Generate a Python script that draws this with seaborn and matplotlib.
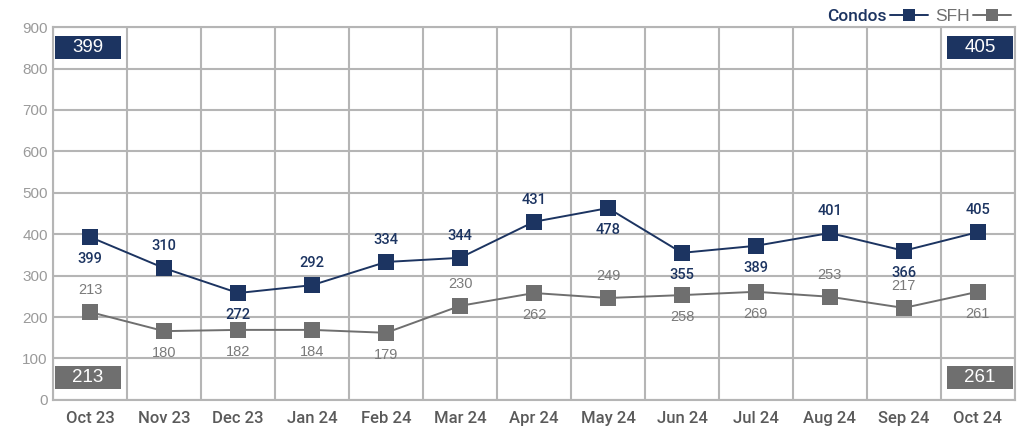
import pandas as pd
import matplotlib.pyplot as plt
import seaborn as sns
from matplotlib.ticker import MultipleLocator

# data
months = ['Oct 23', 'Nov 23', 'Dec 23', 'Jan 24', 'Feb 24', 'Mar 24', 'Apr 24',
          'May 24', 'Jun 24', 'Jul 24', 'Aug 24', 'Sep 24', 'Oct 24']
# where the markers sit on the chart
condos_pos = [393, 318, 258, 277, 333, 343, 430, 463, 355, 372, 403, 360, 405]
sfh_pos = [212, 166, 169, 169, 162, 227, 258, 246, 253, 261, 249, 222, 261]
# the printed labels
condos_lbl = [399, 310, 272, 292, 334, 344, 431, 478, 355, 389, 401, 366, 405]
sfh_lbl = [213, 180, 182, 184, 179, 230, 262, 249, 258, 269, 253, 217, 261]
# label above (1) or below (-1) the point
condos_side = [-1, 1, -1, 1, 1, 1, 1, -1, -1, -1, 1, -1, 1]
sfh_side = [1, -1, -1, -1, -1, 1, -1, 1, -1, -1, 1, 1, -1]

navy = '#1c3461'
grey = '#6f6f6f'

sns.set_style('white')
plt.rcParams['font.family'] = ['Liberation Sans', 'DejaVu Sans']
medium = ['Roboto', 'Liberation Sans']

df = pd.DataFrame({'month': months * 2,
                   'value': condos_pos + sfh_pos,
                   'type': ['Condos'] * len(months) + ['SFH'] * len(months)})
df['x'] = list(range(len(months))) * 2

fig = plt.figure(figsize=(10.24, 4.3), dpi=100)
ax = fig.add_axes([0.052, 0.07, 0.939, 0.867])

sns.lineplot(data=df, x='x', y='value', hue='type', style='type',
             palette={'Condos': navy, 'SFH': grey}, markers={'Condos': 's', 'SFH': 's'},
             dashes=False, markersize=11, markeredgewidth=0, linewidth=1.4, ax=ax)

ax.set_xlim(-0.5, len(months) - 0.5)
ax.set_ylim(0, 900)
ax.yaxis.set_major_locator(MultipleLocator(100))
ax.set_xticks(range(len(months)))
ax.set_xticklabels(months, family=medium, fontweight='medium')
ax.set_xticks([i - 0.5 for i in range(len(months) + 1)], minor=True)
ax.grid(True, axis='y', color='#b5b5b5', linewidth=1.5)
ax.grid(True, axis='x', which='minor', color='#b5b5b5', linewidth=1.5)
ax.set_axisbelow(True)
for s in ax.spines.values():
    s.set_color('#b5b5b5')
    s.set_linewidth(1.5)
ax.tick_params(axis='y', labelsize=11, labelcolor='#9a9a9a', length=0, pad=4)
ax.tick_params(axis='x', which='major', labelsize=12, labelcolor='#5a5a5a', length=0, pad=8)
ax.tick_params(axis='x', which='minor', length=0)
ax.set_xlabel('')
ax.set_ylabel('')

# point labels
for i in range(len(months)):
    ax.annotate(str(condos_lbl[i]), (i, condos_pos[i]), xytext=(0, 16 * condos_side[i]),
                textcoords='offset points', ha='center', va='center',
                fontsize=10.5, color=navy, family=medium, fontweight='medium')
    ax.annotate(str(sfh_lbl[i]), (i, sfh_pos[i]), xytext=(0, 16 * sfh_side[i]),
                textcoords='offset points', ha='center', va='center',
                fontsize=10.5, color='#7a7a7a')

# corner boxes with first / last values
box_w = 0.068
for (x0, y0, txt, col) in [(0.002, 0.915, condos_lbl[0], navy),
                           (1 - box_w - 0.002, 0.915, condos_lbl[-1], navy),
                           (0.002, 0.03, sfh_lbl[0], grey),
                           (1 - box_w - 0.002, 0.03, sfh_lbl[-1], grey)]:
    ax.add_patch(plt.Rectangle((x0, y0), box_w, 0.06, transform=ax.transAxes,
                               fc=col, ec='none', zorder=5))
    ax.text(x0 + box_w / 2, y0 + 0.03, str(txt), transform=ax.transAxes, ha='center',
            va='center', fontsize=13.5, color='white', zorder=6)

# legend: text first, marker after
h, l = ax.get_legend_handles_labels()
leg = ax.legend(h, l, loc='lower right', bbox_to_anchor=(1.0, 1.0), ncol=2,
                markerfirst=False, frameon=False, fontsize=12.5, handlelength=2.2,
                handletextpad=0.2, columnspacing=0.4, borderaxespad=0.1,
                labelcolor=[navy, grey], borderpad=0.1)
for hl in leg.legend_handles:
    hl.set_markersize(8)
leg.get_texts()[0].set_family(medium)
leg.get_texts()[0].set_fontweight('medium')

fig.savefig('out.png', dpi=100)
